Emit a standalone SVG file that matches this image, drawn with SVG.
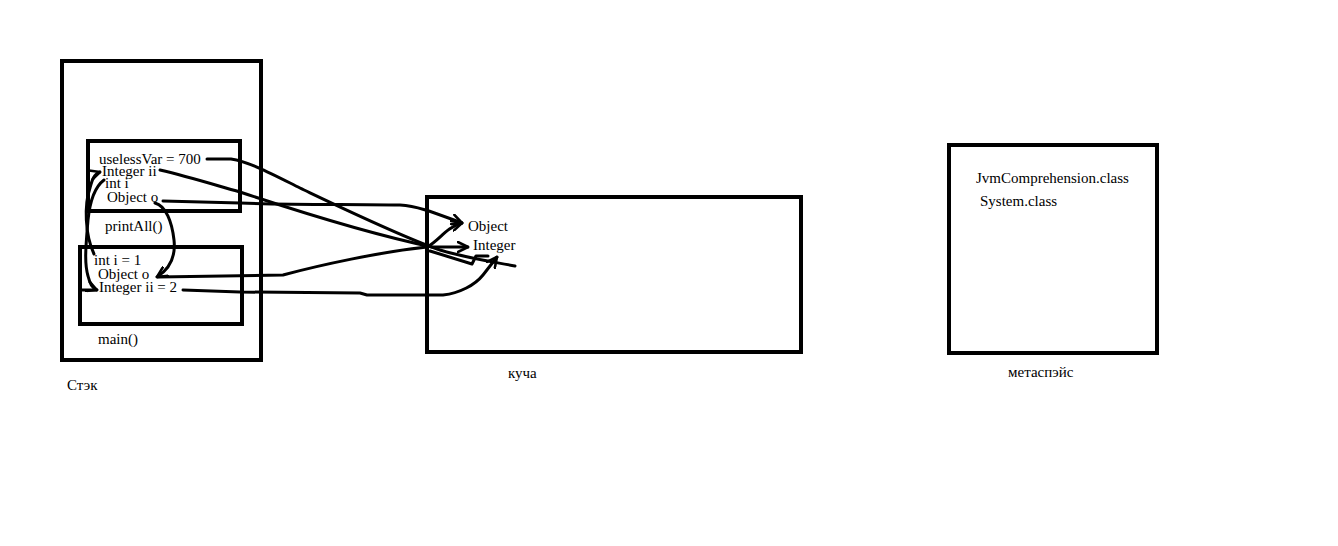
<svg xmlns="http://www.w3.org/2000/svg" width="1338" height="546" viewBox="0 0 1338 546">
<style>
.box{fill:none;stroke:#000;stroke-width:4}
.t{font-family:"Liberation Serif","Times New Roman",serif;font-size:15px;fill:#000}
.c{fill:none;stroke:#000;stroke-width:3;stroke-linecap:round;stroke-linejoin:round}
</style>
<defs>
<marker id="arr" viewBox="0 0 12 12" refX="11" refY="6" markerWidth="12" markerHeight="12" markerUnits="userSpaceOnUse" orient="auto">
<path d="M1,1 L11,6 L1,11" fill="none" stroke="#000" stroke-width="2.6" stroke-linecap="round" stroke-linejoin="round"/>
</marker>
</defs>
<rect width="1338" height="546" fill="#fff"/>
<g id="stack">
<rect class="box" x="62" y="61" width="199" height="299"/>
<text class="t" x="67" y="390">Стэк</text>
</g>
<g id="printAll">
<rect class="box" x="88" y="141" width="152" height="70"/>
<text class="t" x="99" y="164">uselessVar = 700</text>
<text class="t" x="102" y="176">Integer ii</text>
<text class="t" x="105" y="188">int i</text>
<text class="t" x="107" y="202">Object o</text>
<text class="t" x="105" y="231">printAll()</text>
</g>
<g id="main">
<rect class="box" x="80" y="247" width="162" height="77"/>
<text class="t" x="94" y="265">int i = 1</text>
<text class="t" x="98" y="279">Object o</text>
<text class="t" x="99" y="292">Integer ii = 2</text>
<text class="t" x="98" y="344">main()</text>
</g>
<g id="heap">
<rect class="box" x="427" y="197" width="374" height="155"/>
<text class="t" x="468" y="231">Object</text>
<text class="t" x="473" y="250">Integer</text>
<text class="t" x="508" y="378">куча</text>
</g>
<g id="metaspace">
<rect class="box" x="949" y="145" width="208" height="208"/>
<text class="t" x="976" y="183">JvmComprehension.class</text>
<text class="t" x="980" y="206">System.class</text>
<text class="t" x="1008" y="377">метаспэйс</text>
</g>
<g id="connectors">
<path class="c" d="M207,159 L231,159 C250,162 272,174 300,188 C340,207 400,236 440,250 C470,259 495,262 515,266"/>
<path class="c" d="M160,170 C190,177 215,185 240,192 C300,212 380,236 432,247 L468,247" marker-end="url(#arr)"/>
<path class="c" d="M430,251 L472,264 L476,256 L488,256"/>
<path class="c" d="M163,201 L240,203 C300,205 350,204 400,205 C418,206 435,213 462,223" marker-end="url(#arr)"/>
<path class="c" d="M158,277 L283,275 C320,265 380,252 427,247 C440,240 445,228 462,223" marker-end="url(#arr)"/>
<path class="c" d="M183,290 L240,292 L360,293 L367,295 L443,295 C460,293 475,285 483,275 L497,257" marker-end="url(#arr)"/>
<path class="c" d="M94,254 C85,235 84,205 90,188 C92,180 94,174 100,172" marker-end="url(#arr)"/>
<path class="c" d="M104,180 C96,186 90,200 88,220 C86,245 84,262 88,276 C90,284 92,288 97,290" marker-end="url(#arr)"/>
<path class="c" d="M82,290 L96,290"/>
<path class="c" d="M155,203 C166,206 172,222 174,240 C176,258 168,270 157,277" marker-end="url(#arr)"/>
</g>
</svg>
